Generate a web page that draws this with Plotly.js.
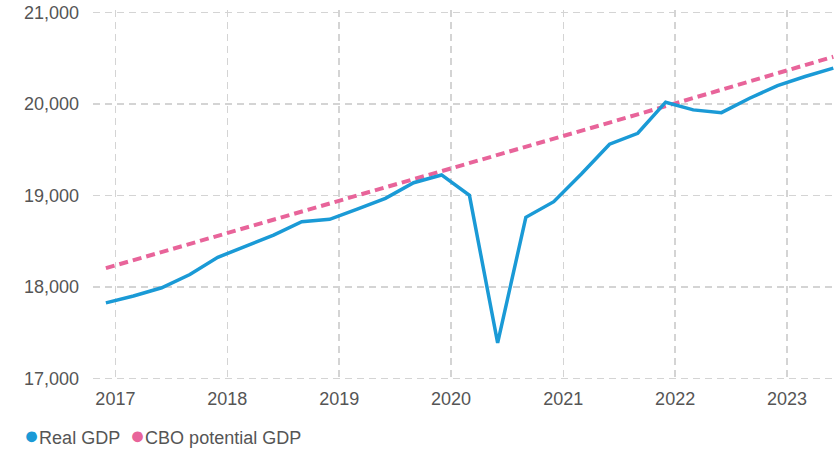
<!DOCTYPE html>
<html><head><meta charset="utf-8">
<script src="https://cdn.plot.ly/plotly-3.0.1.min.js"></script>
<style>html,body{margin:0;padding:0;background:#fff}#chart{width:837px;height:451px}</style>
</head><body><div id="chart"></div>
<script>
// Quarterly observations (plotted at first day of the quarter's last month)
const quarters = ['2016-12-01',
  '2017-03-01','2017-06-01','2017-09-01','2017-12-01',
  '2018-03-01','2018-06-01','2018-09-01','2018-12-01',
  '2019-03-01','2019-06-01','2019-09-01','2019-12-01',
  '2020-03-01','2020-06-01','2020-09-01','2020-12-01',
  '2021-03-01','2021-06-01','2021-09-01','2021-12-01',
  '2022-03-01','2022-06-01','2022-09-01','2022-12-01',
  '2023-03-01','2023-06-01'];
// Real GDP (billions of chained dollars)
const realGDP = [17825,
  17900,17990,18135,18323,
  18440,18567,18713,18739,
  18852,18969,19140,19225,
  19002,17387,18761,18932,
  19235,19561,19681,20021,
  19937,19907,20064,20203,
  20302,20394];
// CBO potential GDP
const potentialGDP = [18205,
  18292,18379,18466,18553,
  18640,18728,18816,18904,
  18992,19080,19169,19258,
  19348,19438,19528,19618,
  19708,19798,19888,19978,
  20068,20158,20248,20338,
  20428,20518];
const seriesNames = ['Real GDP', 'CBO potential GDP'];
const seriesColors = ['#1a9ad6', '#e8649a'];
const yearTicks = ['2017-01-01','2018-01-01','2019-01-01','2020-01-01','2021-01-01','2022-01-01','2023-01-01'];
const yearLabels = ['2017','2018','2019','2020','2021','2022','2023'];
const yTicks = [17000, 18000, 19000, 20000, 21000];

const traces = [
  {x: quarters, y: potentialGDP, type: 'scatter', mode: 'lines', name: seriesNames[1],
   line: {color: seriesColors[1], width: 4, dash: '9px,5px'}},
  {x: quarters, y: realGDP, type: 'scatter', mode: 'lines', name: seriesNames[0],
   line: {color: seriesColors[0], width: 3.5}}
];

const axisFont = {family: '"Liberation Sans", Arial, sans-serif', size: 18, color: '#555555'};
// Legend drawn as text keys below the plot
const legendX = [22, 128];
const legendAnnotations = seriesNames.map((n, i) => ({
  xref: 'paper', yref: 'paper', x: (legendX[i] - 93) / 744, y: -(435 - 381) / 371,
  xanchor: 'left', yanchor: 'middle', showarrow: false, align: 'left',
  text: '<span style="color:' + seriesColors[i] + ';font-size:25px">●</span>' + n,
  font: axisFont
}));

const layout = {
  width: 837, height: 451,
  margin: {l: 93, r: 0, t: 10, b: 70},
  paper_bgcolor: '#ffffff', plot_bgcolor: '#ffffff',
  font: axisFont,
  showlegend: false,
  annotations: legendAnnotations,
  xaxis: {type: 'date', range: ['2016-10-20', '2023-06-13'],
          tickmode: 'array', tickvals: yearTicks, ticktext: yearLabels,
          showgrid: true, gridcolor: '#d4d4d4', gridwidth: 1.5, griddash: '7px,5px',
          zeroline: false, showline: false, ticks: '', ticklabelstandoff: 5,
          tickfont: axisFont},
  yaxis: {range: [16970, 21030], tickmode: 'array', tickvals: yTicks, tickformat: ',d',
          showgrid: true, gridcolor: '#d4d4d4', gridwidth: 1.5, griddash: '7px,5px',
          zeroline: false, showline: false, ticks: '', ticklabelstandoff: 13,
          tickfont: axisFont},
  hovermode: false
};
Plotly.newPlot('chart', traces, layout, {displayModeBar: false, staticPlot: true});
</script></body></html>
